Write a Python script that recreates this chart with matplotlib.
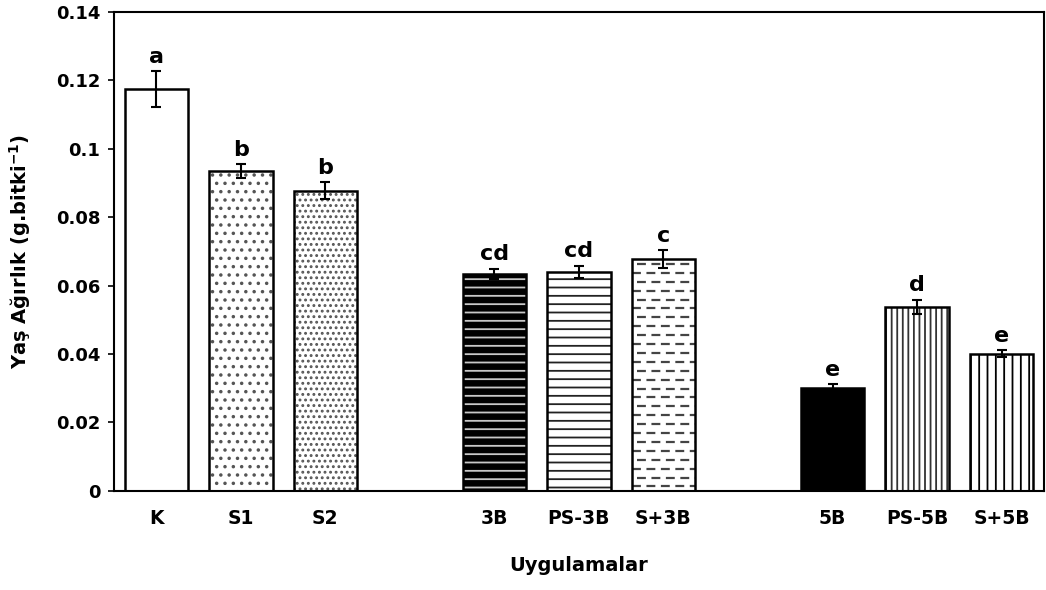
import numpy as np
import matplotlib
matplotlib.use("Agg")
import matplotlib.pyplot as plt

# Treatment groups and measured fresh weight
treatments = ["K", "S1", "S2", "3B", "PS-3B", "S+3B", "5B", "PS-5B", "S+5B"]
positions = [0, 1, 2, 4, 5, 6, 8, 9, 10]
fresh_weight = [0.1175, 0.0935, 0.0877, 0.0634, 0.0640, 0.0678, 0.0301, 0.0538, 0.0401]
std_err = [0.0052, 0.0020, 0.0025, 0.0015, 0.0018, 0.0026, 0.0010, 0.0020, 0.0010]
letters = ["a", "b", "b", "cd", "cd", "c", "e", "d", "e"]

# fill, hatch, hatch colour per bar
styles = [
    ("white", "", "black"),
    ("white", "..", "#555555"),
    ("white", "...", "#555555"),
    ("black", "--", "#c8c8c8"),
    ("white", "--", "#222222"),
    ("white", None, "#444444"),
    ("black", "", "black"),
    ("white", "|||", "#333333"),
    ("white", "||", "black"),
]

plt.rcParams["font.family"] = ["DejaVu Sans"]
plt.rcParams["font.weight"] = "bold"
plt.rcParams["mathtext.default"] = "bf"
plt.rcParams["hatch.linewidth"] = 1.3

fig = plt.figure(figsize=(10.46, 5.9), dpi=100)
ax = fig.add_axes([0.109, 0.168, 0.889, 0.812])

width = 0.75
for x, val, (fc, hatch, hc) in zip(positions, fresh_weight, styles):
    fill = ax.bar(x, val, width, color=fc, edgecolor=hc, hatch=hatch or None,
                  linewidth=0, zorder=1)[0]
    if hatch is None:
        # short dashes in staggered rows
        for i, y in enumerate(np.arange(0.0013, val, 0.0026)):
            offset = 0.0 if i % 2 == 0 else 0.06
            ax.plot([x - width / 2 + offset, x + width / 2], [y, y], color=hc,
                    lw=1.6, ls=(0, (4, 2.5)), clip_path=fill, zorder=2)
    ax.bar(x, val, width, facecolor="none", edgecolor="black", linewidth=1.8,
           zorder=3)

ax.errorbar(positions, fresh_weight, yerr=std_err, fmt="none", ecolor="black",
            elinewidth=1.5, capsize=3.5, capthick=1.5, zorder=4)

for x, val, err, lab in zip(positions, fresh_weight, std_err, letters):
    ax.text(x, val + err + 0.0013, lab, ha="center", va="bottom",
            fontsize=16, fontweight="bold")

ax.set_xlim(-0.5, 10.5)
ax.set_ylim(0, 0.14)
ax.set_yticks(np.arange(0, 0.141, 0.02))
ax.set_yticklabels(["0", "0.02", "0.04", "0.06", "0.08", "0.1", "0.12", "0.14"])
ax.set_xticks(positions)
ax.set_xticklabels(treatments)
ax.tick_params(axis="x", length=0, pad=13, labelsize=13.5)
ax.tick_params(axis="y", length=4, width=1.2, direction="out", pad=6,
               labelsize=13)
for s in ax.spines.values():
    s.set_linewidth(1.5)

ax.set_xlabel("Uygulamalar", fontsize=14, fontweight="bold", labelpad=20)
ax.set_ylabel("Yaş Ağırlık (g.bitki$^{-1}$)", fontsize=14,
              fontweight="bold", labelpad=16)

fig.savefig("out.png", dpi=100)
